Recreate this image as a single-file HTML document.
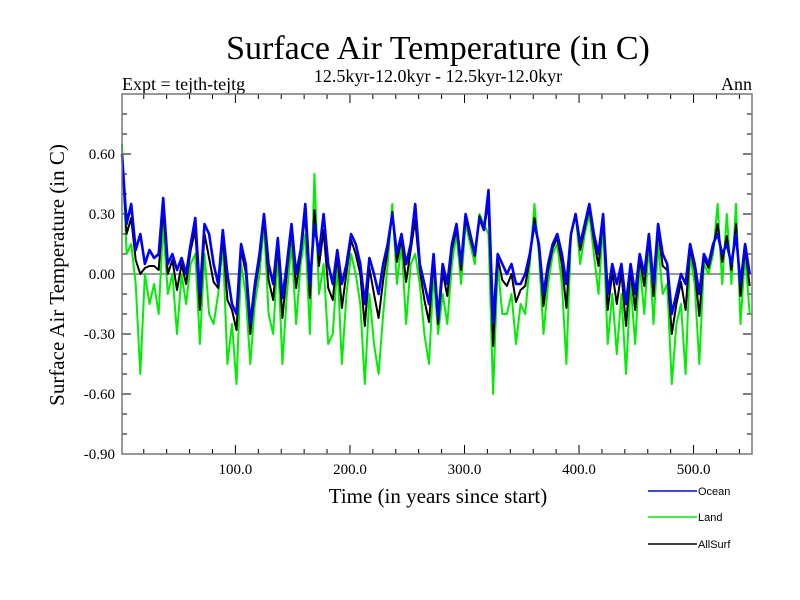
<!DOCTYPE html>
<html><head><meta charset="utf-8"><style>
body{margin:0;background:#fff}
svg{display:block}
text{font-family:"Liberation Serif",serif;fill:#000}
text.sans{font-family:"Liberation Sans",sans-serif}
</style></head><body>
<svg id="chart" width="800" height="600">
<text x="438" y="59" font-size="34" text-anchor="middle">Surface Air Temperature (in C)</text>
<text x="438" y="82" font-size="18" text-anchor="middle">12.5kyr-12.0kyr - 12.5kyr-12.0kyr</text>
<text x="122" y="90" font-size="18">Expt = tejth-tejtg</text>
<text x="752" y="90" font-size="18" text-anchor="end">Ann</text>
<text transform="translate(64,275) rotate(-90)" font-size="21" text-anchor="middle">Surface Air Temperature (in C)</text>
<text x="438" y="503" font-size="21" text-anchor="middle">Time (in years since start)</text>
<g id="ticks"></g>
<g id="plot"></g>
<g id="legend"></g>
</svg>
<script>
const years=[];for(let i=0;i<138;i++)years.push(1+4*i);
const ocean=[0.60,0.25,0.35,0.12,0.20,0.05,0.12,0.08,0.10,0.38,
0.05,0.10,0.02,0.08,0.00,0.15,0.28,-0.10,0.25,0.20,
0.05,-0.05,0.22,0.00,-0.15,-0.20,0.15,0.05,-0.25,-0.05,
0.10,0.30,0.05,-0.05,0.18,-0.12,0.05,0.25,0.00,0.12,
0.35,-0.05,0.25,0.10,0.30,0.05,-0.05,0.12,-0.05,0.05,
0.20,0.15,0.05,-0.15,0.08,0.00,-0.10,0.05,0.15,0.30,
0.10,0.20,0.05,0.15,0.35,0.05,-0.05,-0.15,0.10,-0.22,
0.05,-0.05,0.15,0.25,0.05,0.30,0.20,0.10,0.28,0.22,
0.42,-0.25,0.10,0.05,0.00,0.05,-0.05,-0.05,0.00,0.10,
0.25,0.15,-0.10,0.05,0.15,0.20,0.10,-0.05,0.20,0.30,
0.15,0.25,0.35,0.20,0.10,0.30,-0.10,0.05,-0.05,0.05,
-0.15,0.05,-0.10,0.10,0.00,0.20,-0.05,0.25,0.10,0.05,
-0.20,-0.10,0.00,-0.05,0.15,0.05,-0.10,0.10,0.05,0.15,
0.20,0.10,0.15,0.05,0.20,-0.05,0.15,0.00];
const land=[0.65,0.10,0.15,-0.05,-0.50,0.00,-0.15,-0.05,-0.20,0.25,
-0.10,0.00,-0.30,0.00,-0.15,0.05,0.10,-0.35,0.10,-0.20,
-0.25,-0.10,0.15,-0.45,-0.25,-0.55,0.05,-0.10,-0.45,-0.15,
0.00,0.25,-0.20,-0.30,0.10,-0.45,-0.10,0.15,-0.25,0.05,
0.20,-0.30,0.50,-0.10,0.05,-0.35,-0.30,0.05,-0.45,-0.10,
0.10,0.00,-0.15,-0.55,-0.10,-0.35,-0.50,-0.20,0.05,0.35,
-0.05,0.15,-0.25,0.05,0.10,-0.05,-0.30,-0.45,0.00,-0.30,
-0.10,-0.25,0.05,0.20,-0.05,0.25,0.15,0.05,0.30,0.25,
0.20,-0.60,0.05,-0.20,-0.20,-0.10,-0.35,-0.15,-0.20,0.05,
0.35,0.10,-0.30,-0.05,0.10,0.15,-0.05,-0.45,0.20,0.30,
0.05,0.20,0.30,0.10,-0.10,0.25,-0.35,-0.10,-0.40,-0.10,
-0.50,-0.05,-0.35,0.05,-0.20,0.15,-0.25,0.15,-0.10,-0.05,
-0.55,-0.25,-0.15,-0.50,0.10,-0.05,-0.45,0.05,0.00,0.10,
0.35,-0.05,0.30,-0.05,0.35,-0.25,0.10,-0.20];
const allsurf=[0.60,0.20,0.28,0.07,0.00,0.03,0.04,0.04,0.02,0.33,
0.00,0.07,-0.08,0.05,-0.05,0.12,0.22,-0.18,0.20,0.08,
-0.04,-0.07,0.19,-0.13,-0.18,-0.28,0.12,0.01,-0.30,-0.08,
0.07,0.28,-0.03,-0.13,0.15,-0.22,0.01,0.22,-0.07,0.10,
0.30,-0.12,0.32,0.04,0.22,-0.07,-0.13,0.10,-0.17,0.01,
0.17,0.10,0.00,-0.26,0.03,-0.10,-0.22,-0.03,0.12,0.31,
0.06,0.18,-0.04,0.12,0.27,0.02,-0.13,-0.24,0.07,-0.25,
0.01,-0.11,0.12,0.23,0.02,0.28,0.18,0.09,0.29,0.23,
0.35,-0.36,0.08,-0.03,-0.06,0.00,-0.14,-0.08,-0.06,0.08,
0.28,0.13,-0.16,0.02,0.13,0.18,0.05,-0.17,0.20,0.30,
0.12,0.23,0.33,0.17,0.04,0.28,-0.18,0.01,-0.15,0.01,
-0.26,0.02,-0.18,0.08,-0.06,0.18,-0.11,0.22,0.04,0.02,
-0.30,-0.15,-0.04,-0.18,0.13,0.02,-0.21,0.08,0.03,0.13,
0.25,0.06,0.19,0.02,0.25,-0.11,0.13,-0.06];
const xTicks=[100,200,300,400,500];
const xTickLabels=["100.0","200.0","300.0","400.0","500.0"];
const yTicks=[0.6,0.3,0,-0.3,-0.6,-0.9];
const yTickLabels=["0.60","0.30","0.00","-0.30","-0.60","-0.90"];
const X0=122,X1=752,Y0=94,Y1=454,XMIN=1,XMAX=551,YMIN=-0.9,YMAX=0.9;
const sx=v=>X0+(v-XMIN)/(XMAX-XMIN)*(X1-X0);
const sy=v=>Y1-(v-YMIN)/(YMAX-YMIN)*(Y1-Y0);
const NS="http://www.w3.org/2000/svg";
const mk=(t,a,p)=>{const e=document.createElementNS(NS,t);for(const k in a)e.setAttribute(k,a[k]);p.appendChild(e);return e;};
const tk=document.getElementById('ticks'),pl=document.getElementById('plot'),lg=document.getElementById('legend');
const z=mk('line',{x1:X0,x2:X1,y1:sy(0),y2:sy(0),stroke:'#777','stroke-width':1.5},pl);


for(let v=20;v<XMAX;v+=20){const big=v%100===0,L=big?9:5;
mk('line',{x1:sx(v),x2:sx(v),y1:Y1,y2:Y1-L,stroke:'#000'},tk);
mk('line',{x1:sx(v),x2:sx(v),y1:Y0,y2:Y0+L,stroke:'#000'},tk);}
for(let k=-8;k<=8;k++){const v=k/10,big=k%3===0,L=big?9:5;
mk('line',{x1:X0,x2:X0+L,y1:sy(v),y2:sy(v),stroke:'#000'},tk);
mk('line',{x1:X1,x2:X1-L,y1:sy(v),y2:sy(v),stroke:'#000'},tk);}
xTicks.forEach((v,i)=>{const t=mk('text',{x:sx(v),y:Y1+20,'font-size':15,'text-anchor':'middle'},tk);t.textContent=xTickLabels[i];

});
yTicks.forEach((v,i)=>{const t=mk('text',{x:X0-7,y:sy(v)+5,'font-size':15,'text-anchor':'end'},tk);t.textContent=yTickLabels[i];

});
function line(arr,col,w,name){const d=arr.map((v,i)=>(i?'L':'M')+sx(years[i]).toFixed(1)+','+sy(v).toFixed(1)).join('');
const p=mk('path',{d:d,fill:'none',stroke:col,'stroke-width':w,'stroke-linejoin':'round'},pl);

}
line(land,'#00ee00',2,'land-series');
line(allsurf,'#000',2,'allsurf-series');
line(ocean,'#0000ff',2.6,'ocean-series');
const fr=mk('rect',{x:X0,y:Y0,width:X1-X0,height:Y1-Y0,fill:'none',stroke:'#777','stroke-width':1.5},pl);


[['Ocean','#0000ff',491],['Land','#00ee00',517],['AllSurf','#000',544]].forEach(([n,c,y])=>{
const g=mk('g',{},lg);


mk('line',{x1:648,x2:697,y1:y,y2:y,stroke:c,'stroke-width':1.5},g);
const t=mk('text',{x:698,y:y+4,'font-size':11,'class':'sans'},g);t.textContent=n;});
</script>
</body></html>
